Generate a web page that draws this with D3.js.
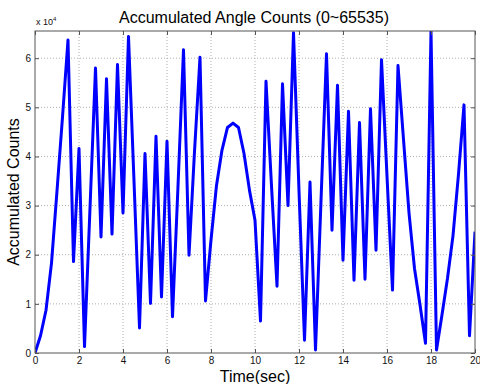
<!DOCTYPE html>
<html>
<head>
<meta charset="utf-8">
<script src="https://cdn.jsdelivr.net/npm/d3@7"></script>
<style>
  body { margin: 0; background: #fff; }
  svg { display: block; font-family: "Liberation Sans", Arial, sans-serif; }
</style>
</head>
<body>
<svg id="chart" width="480" height="384"></svg>
<script>
// sample times (sec)
const times = [0, 0.25, 0.5, 0.75, 1, 1.25, 1.5, 1.75, 2, 2.25, 2.5, 2.75, 3, 3.25, 3.5, 3.75,
    4, 4.25, 4.5, 4.75, 5, 5.25, 5.5, 5.75, 6, 6.25, 6.5, 6.75, 7, 7.25, 7.5, 7.75,
    8, 8.25, 8.5, 8.75, 9, 9.25, 9.5, 9.75, 10, 10.25, 10.5, 10.75, 11, 11.25, 11.5, 11.75,
    12, 12.25, 12.5, 12.75, 13, 13.25, 13.5, 13.75, 14, 14.25, 14.5, 14.75, 15, 15.25, 15.5, 15.75,
    16, 16.25, 16.5, 16.75, 17, 17.25, 17.5, 17.75, 18, 18.25, 18.5, 18.75, 19, 19.25, 19.5, 19.75, 20];

// accumulated angle counts
const counts = [0, 3500, 8700, 18300, 33000, 48000, 63700, 18600, 41600, 1300, 29500, 58000, 23600, 55800, 24200, 58700,
    28500, 64400, 35000, 5100, 40600, 10100, 44100, 11400, 43100, 7400, 34000, 61700, 19900, 41000, 60200, 10600,
    23000, 34100, 41300, 45900, 46800, 45900, 40600, 33100, 27000, 6500, 55300, 34000, 13600, 54800, 30000, 65200,
    33000, 2600, 34800, 600, 31000, 60900, 25000, 54500, 18900, 49200, 14800, 46900, 15000, 49700, 20900, 59700,
    36000, 12800, 58500, 43500, 28500, 17200, 9800, 2000, 65500, 600, 7800, 15200, 23900, 36400, 50500, 3500, 24700];

const xTicks = [0, 2, 4, 6, 8, 10, 12, 14, 16, 18, 20];
const yTicks = [0, 10000, 20000, 30000, 40000, 50000, 60000];

const titleText = "Accumulated Angle Counts (0~65535)";
const xLabel = "Time(sec)";
const yLabel = "Accumulated Counts";

let svg = d3.select("#chart");
let plotLeft = 35, plotRight = 475, plotTop = 31, plotBottom = 353;

let xscale = d3.scaleLinear().domain([0, 20]).range([plotLeft, plotRight]);
let yscale = d3.scaleLinear().domain([0, 65535]).range([plotBottom, plotTop]);

//grid lines
let grid = svg.append("g");
grid.selectAll(".gx").data(xTicks.slice(1, -1)).enter().append("line")
    .attr("x1", d => xscale(d)).attr("x2", d => xscale(d))
    .attr("y1", plotTop).attr("y2", plotBottom)
    .style("stroke", "#b0b0b0").style("stroke-dasharray", "1,2");
grid.selectAll(".gy").data(yTicks.slice(1)).enter().append("line")
    .attr("x1", plotLeft).attr("x2", plotRight)
    .attr("y1", d => yscale(d)).attr("y2", d => yscale(d))
    .style("stroke", "#b0b0b0").style("stroke-dasharray", "1,2");

//clip for the data line
svg.append("clipPath").attr("id", "plotClip")
    .append("rect").attr("x", plotLeft).attr("y", plotTop)
    .attr("width", plotRight - plotLeft).attr("height", plotBottom - plotTop);

let line = d3.line()
    .x((d, i) => xscale(times[i]))
    .y(d => yscale(d));

svg.append("path")
    .datum(counts)
    .attr("clip-path", "url(#plotClip)")
    .attr("d", line)
    .style("fill", "none")
    .style("stroke", "#0000ff")
    .style("stroke-width", 3)
    .style("stroke-linejoin", "round");

//axes, ticks inside like matlab
let xaxis = d3.axisBottom(xscale).tickValues(xTicks).tickSize(-4).tickPadding(4).tickFormat(d3.format("d"));
let yaxis = d3.axisLeft(yscale).tickValues(yTicks).tickSize(-4).tickPadding(4).tickFormat(d => d / 10000);
let xTop = d3.axisTop(xscale).tickValues(xTicks).tickSize(-4).tickFormat("");
let yRight = d3.axisRight(yscale).tickValues(yTicks).tickSize(-4).tickFormat("");

function styleAxis(sel) {
    sel.select(".domain").remove();
    sel.selectAll("line").style("stroke", "#555");
    sel.selectAll("text").style("font-size", "10px").style("fill", "#111")
        .style("font-family", '"Liberation Sans", Arial, sans-serif');
}

svg.append("g").attr("transform", `translate(0, ${plotBottom})`).call(xaxis).call(styleAxis);
svg.append("g").attr("transform", `translate(${plotLeft}, 0)`).call(yaxis).call(styleAxis);
svg.append("g").attr("transform", `translate(0, ${plotTop})`).call(xTop).call(styleAxis);
svg.append("g").attr("transform", `translate(${plotRight}, 0)`).call(yRight).call(styleAxis);

//box
svg.append("rect")
    .attr("x", plotLeft).attr("y", plotTop)
    .attr("width", plotRight - plotLeft).attr("height", plotBottom - plotTop)
    .style("fill", "none").style("stroke", "#555").style("stroke-width", 1);

//exponent label
let expo = svg.append("text").attr("x", plotLeft + 1).attr("y", 25)
    .style("font-size", "9px").style("fill", "#111");
expo.append("tspan").text("x 10");
expo.append("tspan").attr("dy", -4).style("font-size", "6px").text("4");

//title and labels
svg.append("text")
    .attr("x", 254).attr("y", 23)
    .attr("text-anchor", "middle")
    .style("font-size", "16px").style("fill", "#000")
    .text(titleText);
svg.append("text")
    .attr("x", (plotLeft + plotRight) / 2).attr("y", 382)
    .attr("text-anchor", "middle")
    .style("font-size", "16px").style("fill", "#000")
    .text(xLabel);
svg.append("text")
    .attr("transform", `translate(19, ${(plotTop + plotBottom) / 2}) rotate(-90)`)
    .attr("text-anchor", "middle")
    .style("font-size", "16px").style("fill", "#000")
    .text(yLabel);
</script>
</body>
</html>
